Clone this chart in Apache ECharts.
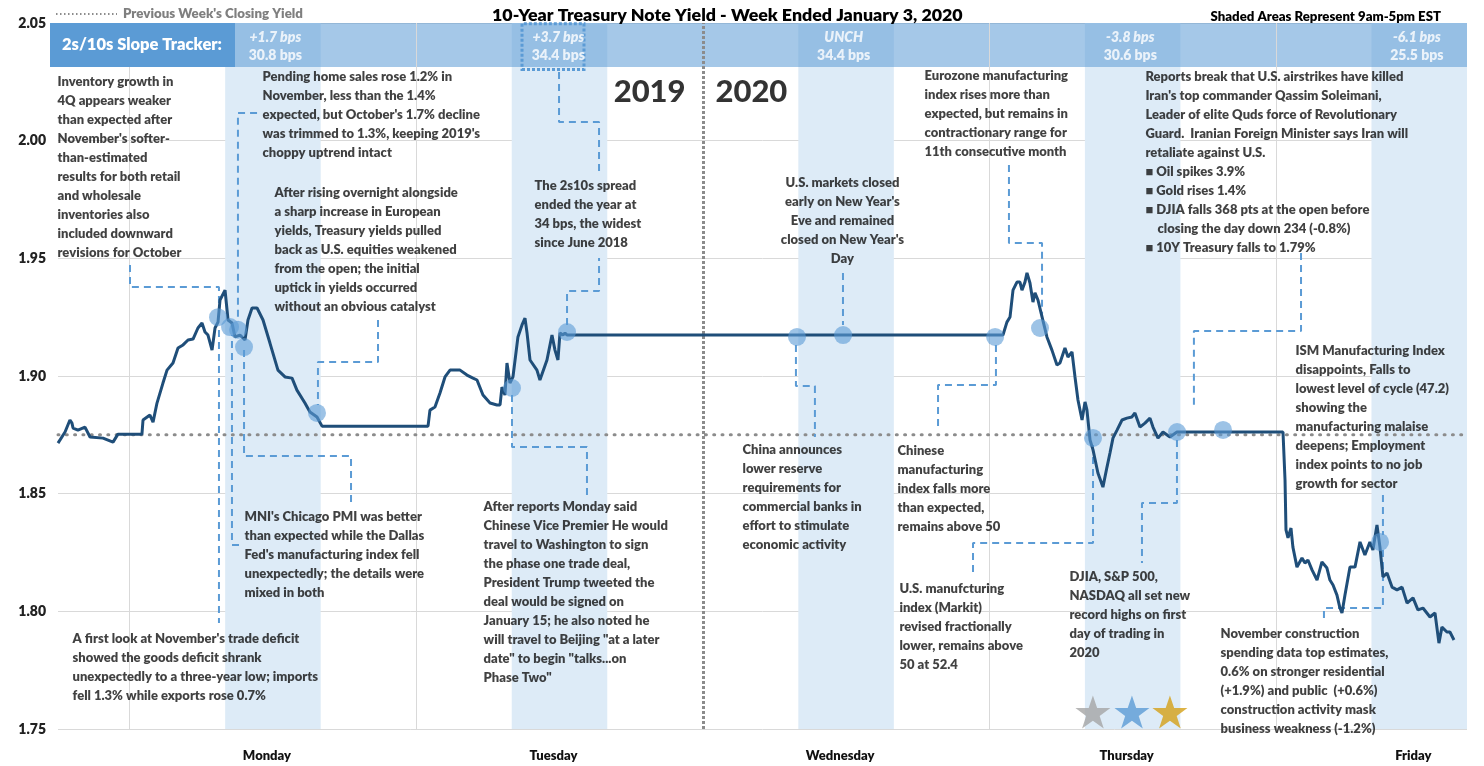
<!DOCTYPE html>
<html>
<head>
<meta charset="utf-8">
<title>10-Year Treasury Note Yield - Week Ended January 3, 2020</title>
<script src="https://cdn.jsdelivr.net/npm/echarts@6/dist/echarts.min.js"></script>
<style>
  html, body { margin: 0; padding: 0; background: #fff; }
  #chart { width: 1484px; height: 766px; }
</style>
</head>
<body>
<div id="chart"></div>
<script>
// x = hours since the Sunday evening open (0) up to Friday close (118)
const times = [
  0, 0.59, 1.00, 1.17, 1.26, 1.67, 2.26, 2.68, 3.77, 4.61,
  5.02, 7.03, 7.12, 7.70, 7.96, 8.29, 8.79, 9.13, 9.63, 10.05,
  10.47, 10.89, 11.31, 11.72, 12.06, 12.31, 12.56, 12.90, 13.15, 13.40,
  13.57, 13.99, 14.24, 14.57, 14.82, 15.24, 15.66, 15.91, 16.25, 16.67,
  17.17, 17.75, 18.42, 19.01, 19.60, 20.01, 20.68, 21.10, 21.69, 22.11,
  30.99, 31.15, 31.57, 31.99, 32.41, 32.83, 33.67, 34.25, 34.75, 35.09,
  35.59, 36.18, 36.76, 37.02, 37.18, 37.43, 37.60, 37.85, 38.10, 38.52,
  38.86, 39.11, 39.28, 39.53, 40.11, 40.36, 40.95, 41.37, 41.62, 41.87,
  42.04, 42.29, 42.46, 42.63, 79.14, 79.47, 79.73, 79.98, 80.31, 80.56,
  80.73, 80.98, 81.15, 81.40, 81.65, 81.82, 82.07, 82.41, 82.82, 83.24,
  83.66, 83.91, 84.33, 84.58, 84.92, 85.17, 85.42, 85.76, 86.01, 86.17,
  86.43, 86.68, 87.09, 87.51, 87.85, 88.10, 88.35, 88.69, 89.11, 89.52,
  89.94, 90.19, 90.61, 91.03, 91.45, 91.70, 92.12, 92.54, 93.12, 93.71,
  102.59, 102.76, 102.84, 103.01, 103.26, 103.42, 103.76, 104.18, 104.43, 104.68,
  105.02, 105.44, 105.85, 106.27, 106.52, 106.78, 107.11, 107.36, 107.53, 107.78,
  108.20, 108.62, 109.04, 109.45, 109.87, 110.12, 110.46, 110.71, 110.96, 111.30,
  111.72, 112.14, 112.56, 112.98, 113.48, 113.89, 114.31, 114.90, 115.32, 115.65,
  115.90, 116.32, 116.57, 116.91
];
const yields = [
  1.8715, 1.8762, 1.8813, 1.8800, 1.8779, 1.8770, 1.8783, 1.8741, 1.8736, 1.8719,
  1.8753, 1.8753, 1.8813, 1.8834, 1.8804, 1.8885, 1.8970, 1.9025, 1.9055, 1.9119,
  1.9132, 1.9153, 1.9157, 1.9204, 1.9225, 1.9187, 1.9174, 1.9110, 1.9204, 1.9229,
  1.9323, 1.9365, 1.9238, 1.9225, 1.9166, 1.9174, 1.9153, 1.9238, 1.9289, 1.9289,
  1.9238, 1.9140, 1.9025, 1.8996, 1.8991, 1.8940, 1.8885, 1.8847, 1.8826, 1.8787,
  1.8787, 1.8855, 1.8868, 1.8928, 1.8996, 1.9025, 1.9025, 1.9004, 1.8991, 1.8983,
  1.8919, 1.8885, 1.8877, 1.8877, 1.8953, 1.8919, 1.9055, 1.8970, 1.8996, 1.9166,
  1.9217, 1.9246, 1.9183, 1.9068, 1.9025, 1.8983, 1.9068, 1.9174, 1.9110, 1.9068,
  1.9183, 1.9174, 1.9183, 1.9174, 1.9174, 1.9229, 1.9251, 1.9365, 1.9399, 1.9399,
  1.9365, 1.9399, 1.9438, 1.9395, 1.9314, 1.9353, 1.9323, 1.9251, 1.9166, 1.9110,
  1.9047, 1.9055, 1.9119, 1.9081, 1.9102, 1.8996, 1.8898, 1.8813, 1.8890, 1.8856,
  1.8728, 1.8686, 1.8588, 1.8528, 1.8613, 1.8673, 1.8736, 1.8770, 1.8813, 1.8821,
  1.8826, 1.8843, 1.8783, 1.8800, 1.8821, 1.8783, 1.8736, 1.8762, 1.8741, 1.8762,
  1.8762, 1.8558, 1.8346, 1.8312, 1.8354, 1.8273, 1.8188, 1.8227, 1.8205, 1.8218,
  1.8176, 1.8133, 1.8210, 1.8184, 1.8133, 1.8112, 1.8069, 1.8014, 1.7993, 1.8069,
  1.8188, 1.8188, 1.8295, 1.8239, 1.8295, 1.8261, 1.8367, 1.8273, 1.8146, 1.8163,
  1.8103, 1.8091, 1.8103, 1.8035, 1.8057, 1.8006, 1.8014, 1.7976, 1.7993, 1.7865,
  1.7933, 1.7912, 1.7912, 1.7878
];
const prevClose = 1.875;

// highlighted news events on the line
const eventTimes = [13.40, 14.41, 15.08, 15.58, 21.69, 38.02, 42.63, 61.89, 65.75, 78.48, 82.24, 86.68, 93.72, 97.57, 110.72];
const eventYields = [1.9250, 1.9208, 1.9196, 1.9123, 1.8843, 1.8949, 1.9187, 1.9166, 1.9174, 1.9166, 1.9204, 1.8737, 1.8762, 1.8771, 1.8295];

// 9am-5pm sessions
const sessionStart = [14, 38, 62, 86, 110];
const sessionEnd = [22, 46, 70, 94, 118];
const dayNames = ['Monday', 'Tuesday', 'Wednesday', 'Thursday', 'Friday'];
const dayLabelAt = [17.5, 41.5, 65.5, 89.5, 113.5];
const dayBreaks = [6, 30, 78, 102];
const yearBreak = 54;

// 2s/10s slope tracker
const slopeChange = ['+1.7 bps', '+3.7 bps', 'UNCH', '-3.8 bps', '-6.1 bps'];
const slopeLevel = ['30.8 bps', '34.4 bps', '34.4 bps', '30.6 bps', '25.5 bps'];

// record-high stars
const starTimes = [86.67, 89.94, 93.12];
const starColors = ['#a5a5a5', '#5b9bd5', '#d4a017'];

// ---- annotation layout ----
const slopeAt = [18.2, 41.9, 65.8, 89.8, 113.8];
const slopeY = 2.0402;
const starY = 1.7572;

const notes = [
  {h: 0.00, v: 2.0290, text: "Inventory growth in\n4Q appears weaker\nthan expected after\nNovember's softer-\nthan-estimated\nresults for both retail\nand wholesale\ninventories also\nincluded downward\nrevisions for October"},
  {h: 17.17, v: 2.0311, text: "Pending home sales rose 1.2% in\nNovember, less than the 1.4%\nexpected, but October's 1.7% decline\nwas trimmed to 1.3%, keeping 2019's\nchoppy uptrend intact"},
  {h: 18.17, v: 1.9818, text: "After rising overnight alongside\na sharp increase in European\nyields, Treasury yields pulled\nback as U.S. equities weakened\nfrom the open; the initial\nuptick in yields occurred\nwithout an obvious catalyst"},
  {h: 39.95, v: 1.9848, text: "The 2s10s spread\nended the year at\n34 bps, the widest\nsince June 2018"},
  {h: 65.74, v: 1.9860, align: 'center', text: "U.S. markets closed\nearly on New Year's\nEve and remained\nclosed on New Year's\nDay"},
  {h: 72.61, v: 2.0315, text: "Eurozone manufacturing\nindex rises more than\nexpected, but remains in\ncontractionary range for\n11th consecutive month"},
  {h: 91.11, v: 2.0311, text: "Reports break that U.S. airstrikes have killed\nIran's top commander Qassim Soleimani,\nLeader of elite Quds force of Revolutionary\nGuard.  Iranian Foreign Minister says Iran will\nretaliate against U.S.\n\u25A0 Oil spikes 3.9%\n\u25A0 Gold rises 1.4%\n\u25A0 DJIA falls 368 pts at the open before\n    closing the day down 234 (-0.8%)\n\u25A0 10Y Treasury falls to 1.79%"},
  {h: 103.68, v: 1.9147, text: "ISM Manufacturing Index\ndisappoints, Falls to\nlowest level of cycle (47.2)\nshowing the\nmanufacturing malaise\ndeepens; Employment\nindex points to no job\ngrowth for sector"},
  {h: 57.37, v: 1.8726, text: "China announces\nlower reserve\nrequirements for\ncommercial banks in\neffort to stimulate\neconomic activity"},
  {h: 70.35, v: 1.8722, text: "Chinese\nmanufacturing\nindex falls more\nthan expected,\nremains above 50"},
  {h: 15.66, v: 1.8441, text: "MNI's Chicago PMI was better\nthan expected while the Dallas\nFed's manufacturing index fell\nunexpectedly; the details were\nmixed in both"},
  {h: 35.68, v: 1.8484, text: "After reports Monday said\nChinese Vice Premier He would\ntravel to Washington to sign\nthe phase one trade deal,\nPresident Trump tweeted the\ndeal would be signed on\nJanuary 15; he also noted he\nwill travel to Beijing \"at a later\ndate\" to begin \"talks...on\nPhase Two\""},
  {h: 70.51, v: 1.8135, text: "U.S. manufcturing\nindex (Markit)\nrevised fractionally\nlower, remains above\n50 at 52.4"},
  {h: 84.75, v: 1.8186, text: "DJIA, S&P 500,\nNASDAQ all set new\nrecord highs on first\nday of trading in\n2020"},
  {h: 1.26, v: 1.7923, text: "A first look at November's trade deficit\nshowed the goods deficit shrank\nunexpectedly to a three-year low; imports\nfell 1.3% while exports rose 0.7%"},
  {h: 97.40, v: 1.7944, text: "November construction\nspending data top estimates,\n0.6% on stronger residential\n(+1.9%) and public  (+0.6%)\nconstruction activity mask\nbusiness weakness (-1.2%)"}
];

// elbow leaders from notes to events
const leaders = [
  [[6.03, 1.9472], [6.03, 1.9378], [13.48, 1.9378], [13.48, 1.9280]],
  [[13.48, 1.9195], [13.48, 1.7950]],
  [[15.16, 1.8282], [14.57, 1.8282], [14.57, 1.9174]],
  [[24.54, 1.8465], [24.54, 1.8660], [15.58, 1.8660], [15.58, 1.9111]],
  [[16.67, 2.0118], [15.07, 2.0118], [15.07, 1.9229]],
  [[26.80, 1.9238], [26.80, 1.9059], [21.77, 1.9059], [21.77, 1.8877]],
  [[38.02, 1.8919], [38.02, 1.8698], [44.30, 1.8698], [44.30, 1.8494]],
  [[42.63, 1.9217], [42.63, 1.9361], [45.31, 1.9361], [45.31, 1.9501]],
  [[41.96, 2.0292], [41.96, 2.0079], [45.31, 2.0079], [45.31, 1.9863]],
  [[65.74, 1.9438], [65.74, 1.9217]],
  [[61.80, 1.9132], [61.80, 1.8957], [63.39, 1.8957], [63.39, 1.8741]],
  [[79.64, 1.9897], [79.64, 1.9565], [82.41, 1.9565], [82.41, 1.9246]],
  [[78.55, 1.9132], [78.55, 1.8962], [73.70, 1.8962], [73.70, 1.8771]],
  [[86.68, 1.8707], [86.68, 1.8290], [76.63, 1.8290], [76.63, 1.8163]],
  [[93.71, 1.8728], [93.71, 1.8460], [90.78, 1.8460], [90.78, 1.8205]],
  [[104.10, 1.9523], [104.10, 1.9191], [95.13, 1.9191], [95.13, 1.8877]],
  [[110.96, 1.8494], [110.96, 1.8324]],
  [[110.96, 1.8261], [110.96, 1.8014], [106.02, 1.8014], [106.02, 1.7972]]
];

const FONT = 'Lato';
const HEAVY = 800;
const starPath = 'path://M50,0 L61.8,35.1 L98.9,35.1 L68.9,57.3 L80.3,92.6 L50,70.8 L19.7,92.6 L31.1,57.3 L1.1,35.1 L38.2,35.1 Z';

const chart = echarts.init(document.getElementById('chart'));

const shadeAreas = sessionStart.map((s, i) => [
  {xAxis: s, itemStyle: {color: '#ddebf7'}},
  {xAxis: sessionEnd[i]}
]);

const option = {
  animation: false,
  title: [{
    text: '10-Year Treasury Note Yield - Week Ended January 3, 2020',
    left: 487, top: 1,
    textStyle: {fontFamily: FONT, fontWeight: HEAVY, fontSize: 17.8, color: '#000'}
  }, {
    text: 'Shaded Areas Represent 9am-5pm EST',
    right: 38, top: 5,
    textStyle: {fontFamily: FONT, fontWeight: HEAVY, fontSize: 13.2, color: '#000'}
  }],
  grid: {left: 58, right: 17, top: 23, bottom: 37},
  xAxis: {
    type: 'value', min: 0, max: 118,
    axisLine: {show: false}, axisTick: {show: false}, splitLine: {show: false},
    axisLabel: {
      customValues: dayLabelAt,
      margin: 20,
      formatter: v => dayNames[dayLabelAt.indexOf(v)] || '',
      fontFamily: FONT, fontWeight: HEAVY, fontSize: 13, color: '#111'
    }
  },
  yAxis: {
    type: 'value', min: 1.75, max: 2.05, interval: 0.05,
    axisLine: {show: false}, axisTick: {show: false},
    splitLine: {lineStyle: {color: '#d9d9d9', width: 1}},
    axisLabel: {
      formatter: v => v.toFixed(2), margin: 12,
      fontFamily: FONT, fontWeight: HEAVY, fontSize: 14, color: '#222'
    }
  },
  graphic: [
    {type: 'line', z: 10, shape: {x1: 56, y1: 14, x2: 117, y2: 14},
      style: {stroke: '#8c8c8c', lineWidth: 2, lineDash: [1.5, 2.5]}},
    {type: 'text', z: 10, x: 123, y: 14,
      style: {text: "Previous Week's Closing Yield", font: '800 13.3px Lato', fill: '#7f7f7f', verticalAlign: 'middle'}},
    {type: 'rect', z: 10, shape: {x: 50, y: 23, width: 185, height: 44}, style: {fill: '#5b9bd5'}},
    {type: 'text', z: 11, x: 142, y: 45,
      style: {text: '2s/10s Slope Tracker:', font: '800 16.5px Lato', fill: '#fff', align: 'center', verticalAlign: 'middle'}}
  ],
  series: [
    {
      name: "Previous Week's Closing Yield",
      type: 'line', z: 2, silent: true, symbol: 'none',
      data: [[0, prevClose], [118, prevClose]],
      lineStyle: {color: '#8c8c8c', width: 3, type: [1, 7.3], cap: 'round'},
      markArea: {
        silent: true, z: 1,
        data: shadeAreas.concat([
          [{xAxis: 0, yAxis: 2.0313, itemStyle: {color: 'rgba(91,155,213,0.55)'}}, {xAxis: 118, yAxis: 2.05}],
          [{xAxis: 38.86, yAxis: 2.0302, itemStyle: {color: 'rgba(0,0,0,0)', borderColor: '#5b9bd5', borderWidth: 3, borderType: [3, 2]}},
            {xAxis: 44.05, yAxis: 2.0497}]
        ])
      },
      markLine: {
        silent: true, z: 1, symbol: 'none', label: {show: false},
        data: dayBreaks.map(h => ({xAxis: h, lineStyle: {color: '#d9d9d9', width: 1, type: 'solid'}}))
          .concat([{xAxis: yearBreak, lineStyle: {color: '#8c8c8c', width: 3, type: [3, 2]}}])
      }
    }
  ].concat(leaders.map(pts => ({
    type: 'line', z: 3, silent: true, symbol: 'none', data: pts,
    lineStyle: {color: '#5b9bd5', width: 2, type: [7, 5]}
  }))).concat([
    {
      name: '10Y Yield', type: 'line', z: 4, silent: true, symbol: 'none',
      data: times.map((t, i) => [t, yields[i]]),
      lineStyle: {color: '#1f4e79', width: 3}
    },
    {
      name: 'Events', type: 'scatter', z: 5, silent: true, symbolSize: 18,
      data: eventTimes.map((t, i) => [t, eventYields[i]]),
      itemStyle: {color: 'rgba(91,155,213,0.75)'}
    },
    {
      name: 'Records', type: 'scatter', z: 5, silent: true, symbol: starPath, symbolSize: [35, 33],
      data: starTimes.map((t, i) => ({value: [t, starY], itemStyle: {color: starColors[i]}}))
    },
    {
      name: 'Slope', type: 'scatter', z: 6, silent: true, symbolSize: 1,
      itemStyle: {color: 'rgba(0,0,0,0)'},
      data: slopeAt.map((h, i) => ({value: [h, slopeY], change: slopeChange[i], level: slopeLevel[i]})),
      label: {
        show: true, position: 'inside',
        formatter: p => '{a|' + p.data.change + '}\n{b|' + p.data.level + '}',
        rich: {
          a: {fontFamily: FONT, fontStyle: 'italic', fontWeight: HEAVY, fontSize: 14, color: '#fff', lineHeight: 18},
          b: {fontFamily: FONT, fontWeight: HEAVY, fontSize: 14, color: '#fff', lineHeight: 18}
        }
      }
    },
    {
      name: 'Years', type: 'scatter', z: 6, silent: true, symbolSize: 1,
      itemStyle: {color: 'rgba(0,0,0,0)'},
      data: [
        {value: [52.6, 2.0203], label: {formatter: '2019', align: 'right'}},
        {value: [55.1, 2.0203], label: {formatter: '2020', align: 'left'}}
      ],
      label: {show: true, position: [0, 0], verticalAlign: 'middle',
        fontFamily: FONT, fontWeight: 900, fontSize: 31, color: '#000'}
    },
    {
      name: 'Notes', type: 'scatter', z: 6, silent: true, symbolSize: 1,
      itemStyle: {color: 'rgba(0,0,0,0)'},
      data: notes.map(n => ({value: [n.h, n.v], label: {formatter: n.text, align: n.align || 'left'}})),
      label: {show: true, position: [0, 0], verticalAlign: 'top',
        fontFamily: FONT, fontWeight: HEAVY, fontSize: 13, lineHeight: 19, color: '#111'}
    }
  ])
};

chart.setOption(option);
</script>
</body>
</html>
